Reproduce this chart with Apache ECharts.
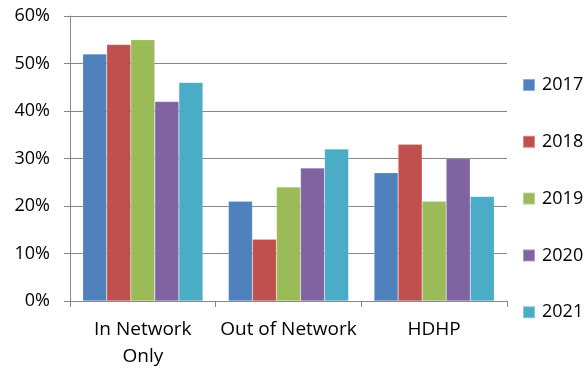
<!DOCTYPE html>
<html>
<head>
<meta charset="utf-8">
<script src="https://cdn.jsdelivr.net/npm/echarts@6/dist/echarts.min.js"></script>
<style>
  html, body { margin: 0; padding: 0; background: #fff; }
  #chart { width: 586px; height: 370px; }
</style>
</head>
<body>
<div id="chart"></div>
<script>
// Plan types on the category axis
const categories = ['In Network\nOnly', 'Out of Network', 'HDHP'];

// Share of enrollment per year (percent)
const years = ['2017', '2018', '2019', '2020', '2021'];
const values2017 = [52, 21, 27];
const values2018 = [54, 13, 33];
const values2019 = [55, 24, 21];
const values2020 = [42, 28, 30];
const values2021 = [46, 32, 22];

const yearValues = [values2017, values2018, values2019, values2020, values2021];
const colors = ['#4F81BD', '#C0504D', '#9BBB59', '#8064A2', '#4BACC6'];
const font = 'Open Sans, Liberation Sans, sans-serif';
const axisGray = '#868686';

const chart = echarts.init(document.getElementById('chart'));
chart.setOption({
  animation: false,
  color: colors,
  grid: { left: 70, right: 79, top: 16, bottom: 69, outerBoundsMode: 'none' },
  legend: {
    orient: 'vertical',
    left: 522,
    top: 76,
    padding: 0,
    itemWidth: 12,
    itemHeight: 12,
    itemGap: 38.8,
    icon: 'rect',
    data: years,
    textStyle: { fontFamily: font, fontSize: 18, lineHeight: 18, color: '#000', padding: [0, 0, 0, 2] }
  },
  xAxis: {
    type: 'category',
    data: categories,
    axisLine: { lineStyle: { color: axisGray, width: 1 } },
    axisTick: { show: true, length: 6, lineStyle: { color: axisGray } },
    axisLabel: { interval: 0, fontFamily: font, fontSize: 19, color: '#000', margin: 15, lineHeight: 27 }
  },
  yAxis: {
    type: 'value',
    min: 0,
    max: 60,
    interval: 10,
    axisLine: { show: true, lineStyle: { color: axisGray, width: 1 } },
    axisTick: { show: true, length: 6, lineStyle: { color: axisGray } },
    splitLine: { lineStyle: { color: axisGray, width: 1 } },
    axisLabel: { formatter: '{value}%', fontFamily: font, fontSize: 18, color: '#000', margin: 20 }
  },
  series: years.map((y, i) => ({
    name: y,
    type: 'bar',
    data: yearValues[i],
    barGap: '0%',
    barCategoryGap: '17.5%',
    itemStyle: { borderColor: 'rgba(255,255,255,0.35)', borderWidth: 0.5 }
  }))
});
</script>
</body>
</html>
